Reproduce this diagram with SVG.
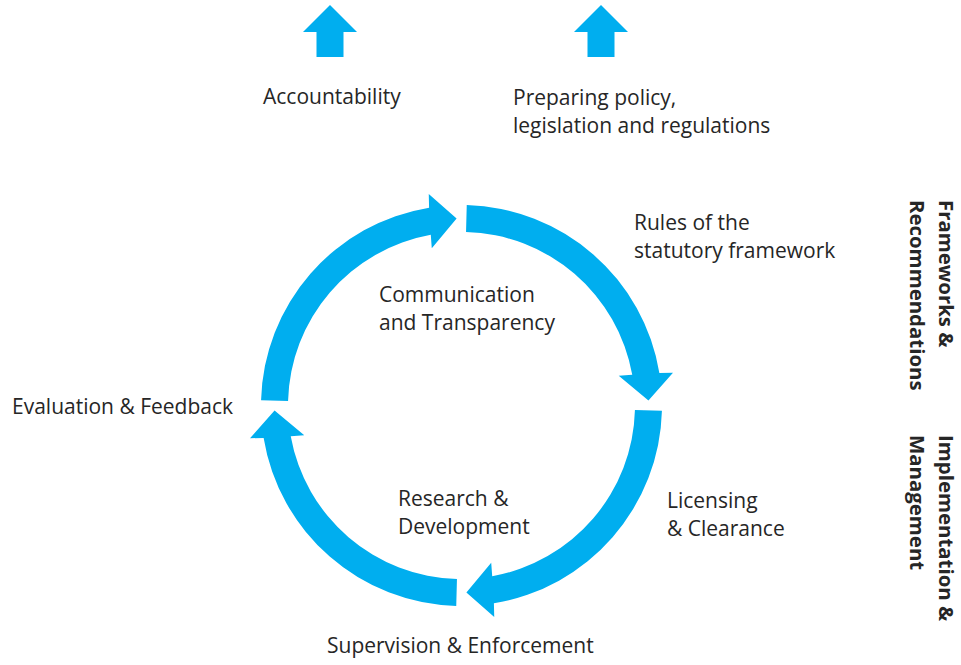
<svg xmlns="http://www.w3.org/2000/svg" xmlns:xlink="http://www.w3.org/1999/xlink" width="961" height="665" viewBox="0 0 961 665">
  <style>
    .lbl { font-family: "Open Sans", "Noto Sans", "Liberation Sans", sans-serif; font-size: 21px; fill: #262626; }
    .side { font-family: "Open Sans", "Noto Sans", "Liberation Sans", sans-serif; font-size: 20.4px; font-weight: bold; fill: #262626; }
    .blue { fill: #00aeef; }
  </style>
  <defs>
    <!-- one quarter of the cycle, centred on the origin, running clockwise from 12 to 3 o'clock -->
    <path id="seg" d="M 5.25 -200.43 A 200.5 200.5 0 0 1 197.87 -32.40 L 211.48 -32.74 L 186.94 -4.90 L 157.22 -29.71 L 170.76 -30.72 A 173.5 173.5 0 0 0 4.54 -173.44 Z"/>
    <path id="up" d="M 0 0 L 27 27 L 13.5 27 L 13.5 52 L -13.5 52 L -13.5 27 L -27 27 Z"/>
  </defs>

  <!-- cycle arrows -->
  <g id="connectors" class="blue">
    <use xlink:href="#seg" transform="translate(461.5 405.5)"/>
    <use xlink:href="#seg" transform="translate(461.5 405.5) rotate(90)"/>
    <use xlink:href="#seg" transform="translate(461.5 405.5) rotate(180)"/>
    <use xlink:href="#seg" transform="translate(461.5 405.5) rotate(270)"/>
    <use xlink:href="#up" transform="translate(330 5)"/>
    <use xlink:href="#up" transform="translate(601 5)"/>
  </g>

  <g id="accountability"><text class="lbl" x="263" y="104">Accountability</text></g>
  <g id="policy">
    <text class="lbl" x="513" y="105">Preparing policy,</text>
    <text class="lbl" x="513" y="133">legislation and regulations</text>
  </g>
  <g id="rules">
    <text class="lbl" x="634" y="230">Rules of the</text>
    <text class="lbl" x="634" y="258">statutory framework</text>
  </g>
  <g id="communication">
    <text class="lbl" x="379" y="302">Communication</text>
    <text class="lbl" x="379" y="330">and Transparency</text>
  </g>
  <g id="evaluation"><text class="lbl" x="12" y="414">Evaluation &amp; Feedback</text></g>
  <g id="research">
    <text class="lbl" x="398" y="506">Research &amp;</text>
    <text class="lbl" x="398" y="534">Development</text>
  </g>
  <g id="licensing">
    <text class="lbl" x="667" y="508">Licensing</text>
    <text class="lbl" x="667" y="536">&amp; Clearance</text>
  </g>
  <g id="supervision"><text class="lbl" x="327" y="653">Supervision &amp; Enforcement</text></g>

  <g id="frameworks">
    <text class="side" transform="translate(939 200) rotate(90)">Frameworks &amp;</text>
    <text class="side" transform="translate(910 200) rotate(90)">Recommendations</text>
  </g>
  <g id="implementation">
    <text class="side" transform="translate(939 435) rotate(90)">Implementation &amp;</text>
    <text class="side" transform="translate(910 435) rotate(90)">Management</text>
  </g>
</svg>
